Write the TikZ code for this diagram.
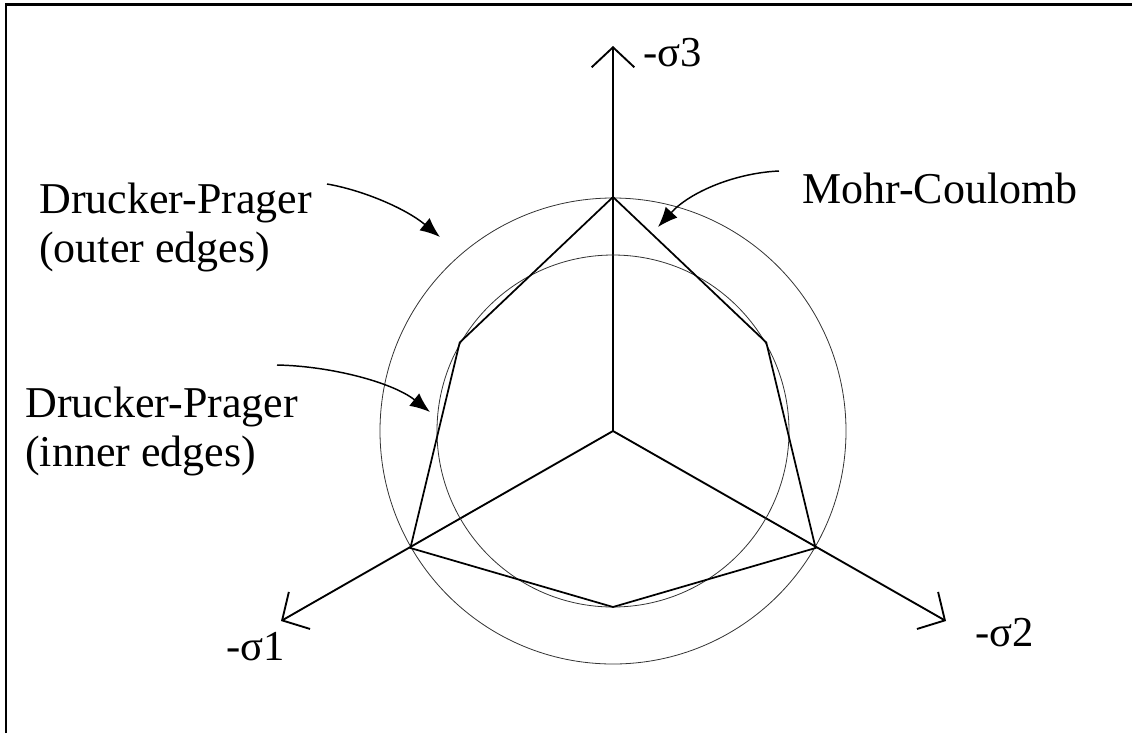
\documentclass[tikz,border=0pt]{standalone}
\usepackage{fontspec}
\setmainfont{Liberation Serif}
\usetikzlibrary{arrows.meta}

\begin{document}
\begin{tikzpicture}[x=0.75pt, y=-0.75pt,
  lbl/.style={anchor=base west, inner sep=0pt, align=left,
              font=\fontsize{33}{36.75}\selectfont},
  axlbl/.style={anchor=base west, inner sep=0pt,
                font=\fontsize{32}{34}\selectfont},
  axis/.style={line width=1.4pt,
               -{Straight Barb[length=15pt, width=32pt, line width=1.4pt]}},
  yield/.style={line width=0.6pt, draw=black!80},
  mc/.style={line width=1.3pt, line join=miter},
  ar/.style={-{Latex[length=15pt, width=12pt]}, line width=1.1pt}]

\useasboundingbox (0,0) rectangle (1132,733);
\draw[line width=2pt] (6,733) -- (6,4.7) -- (1132,4.7);

% ---- principal stress axes ------------------------------------------
\coordinate (O) at (613,431);
\coordinate (s3) at (613,46);
\coordinate (s1) at (281,621);
\coordinate (s2) at (946,621);
\draw[axis] (O) -- (s3);
\draw[axis] (O) -- (s1);
\draw[axis] (O) -- (s2);

\node[axlbl] (ls3) at (643,66) {-σ3};
\node[axlbl] (ls1) at (226,660) {-σ1};
\node[axlbl] (ls2) at (975,646) {-σ2};

% ---- Drucker-Prager circles -------------------------------------------
\draw[yield] (O) circle[radius=233];
\draw[yield] (O) circle[radius=176];

% ---- Mohr-Coulomb hexagon ---------------------------------------------
\coordinate (ma) at (613,197);
\coordinate (mb) at (459.7,342.5);
\coordinate (mc) at (410.4,548);
\coordinate (md) at (613,607);
\coordinate (me) at (815.6,548);
\coordinate (mf) at (766.3,342.5);
\draw[mc] (ma) -- (mb) -- (mc) -- (md) -- (me) -- (mf) -- cycle;

% ---- labels (base = last line) -----------------------------------------
\node[lbl] (dpo) at (39,262) {Drucker-Prager\\(outer edges)};
\node[lbl] (dpi) at (25,466) {Drucker-Prager\\(inner edges)};
\node[lbl] (mcl) at (802,203) {Mohr-Coulomb};

\coordinate (dpoa) at (327,184);
\coordinate (dpot) at (440,237);
\draw[ar] (dpoa) .. controls (362,190) and (405,208) .. (dpot);

\coordinate (dpia) at (277,365);
\coordinate (dpit) at (430,412);
\draw[ar] (dpia) .. controls (330,366) and (392,382) .. (dpit);

\coordinate (mca) at (779,171);
\coordinate (mct) at (658,227);
\draw[ar] (mca) .. controls (735,173) and (690,192) .. (mct);
\end{tikzpicture}
\end{document}
